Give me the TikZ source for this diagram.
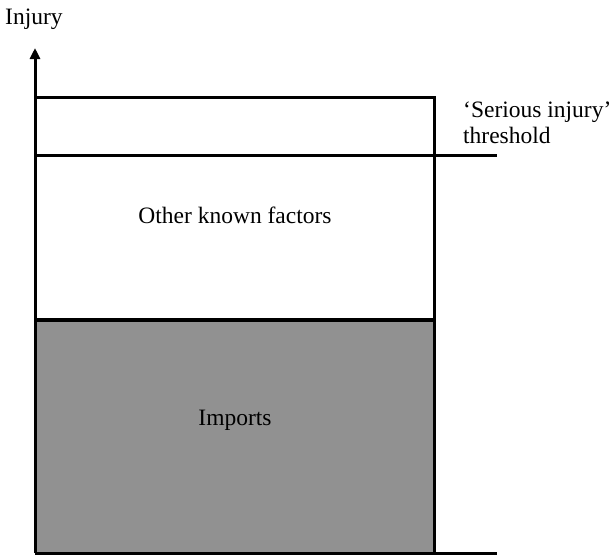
\documentclass[tikz,border=0pt]{standalone}
\usepackage{fontspec}
\setmainfont{Liberation Serif}
\usetikzlibrary{arrows.meta}
\begin{document}
\begin{tikzpicture}[x=1pt,y=-1pt,
  frame/.style={line width=3pt},
  lbl/.style={font=\fontsize{23.5}{27}\selectfont, inner sep=0pt},
  importfill/.style={fill=black!43}]
\useasboundingbox (0,0) rectangle (615,557);
% corner points of the stacked bar
\coordinate (bl) at (35,553);
\coordinate (br) at (434,553);
\coordinate (tl) at (35,97);
\coordinate (tr) at (434,97);
\coordinate (ml) at (35,320);
\coordinate (mr) at (434,320);
\coordinate (thl) at (35,155);
\coordinate (thr) at (497,155);
\coordinate (xend) at (497,553);
\coordinate (ytip) at (35,48);
% imports share
\fill[importfill] (ml) rectangle (br);
% bar outline
\draw[frame] (tl) -- (tr) -- (br);
\draw[line width=4.5pt] (ml) -- (mr);
% threshold line
\draw[frame] (thl) -- (thr);
% axes
\draw[frame] (bl) -- (xend);
\draw[frame, -{Triangle[length=11pt,width=10pt]}] (bl) -- (ytip);
% labels
\node[lbl, anchor=base west] (yl) at (5,24) {Injury};
\node[lbl, anchor=base west] (s1) at (463,117) {`Serious injury'};
\node[lbl, anchor=base west] (s2) at (463,143) {threshold};
\node[lbl] (okf) at (235,215) {Other known factors};
\node[lbl] (imp) at (235,420) {Imports};
\end{tikzpicture}
\end{document}
